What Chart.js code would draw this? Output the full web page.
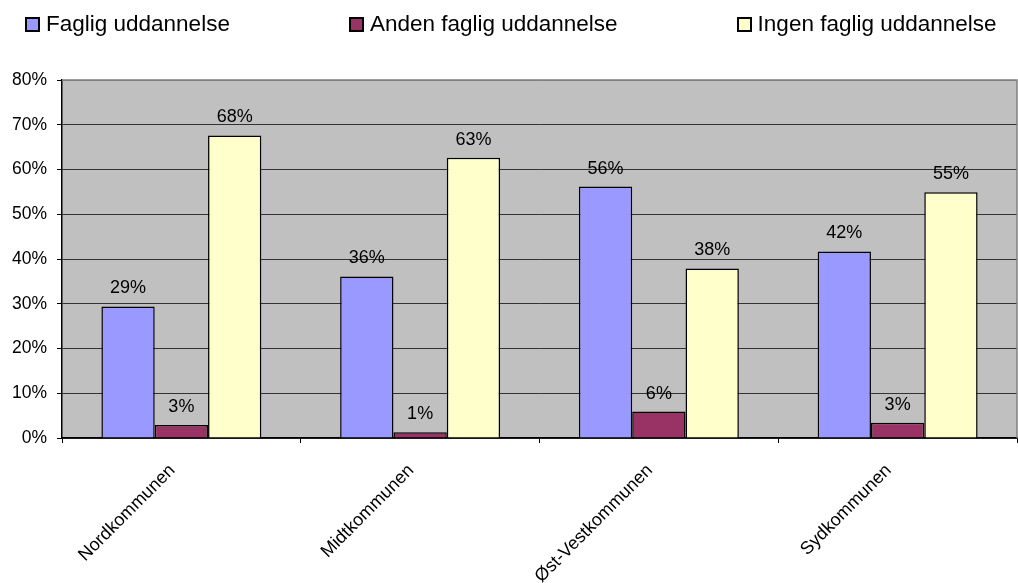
<!DOCTYPE html>
<html>
<head>
<meta charset="utf-8">
<script src="https://cdn.jsdelivr.net/npm/chart.js@4.4.0/dist/chart.umd.min.js"></script>
<style>
  html, body { margin: 0; padding: 0; background: #fff; }
  #wrap { position: relative; width: 1018px; height: 583px; }
  #legend {
    position: absolute; left: 25px; top: 11px;
    display: flex; gap: 119px;
    font: 22.5px "Liberation Sans", Arial, sans-serif; color: #000;
  }
  .item { display: flex; align-items: center; white-space: nowrap; }
  .sw { width: 15px; height: 15px; border: 2px solid #000; box-sizing: border-box; margin-right: 6px; }
  canvas { display: block; }
</style>
</head>
<body>
<div id="wrap">
  <div id="legend"></div>
  <canvas id="chart" width="1018" height="583"></canvas>
</div>
<script>
// Andel med faglig uddannelse pr. kommune (procent)
const categories = ['Nordkommunen', 'Midtkommunen', 'Øst-Vestkommunen', 'Sydkommunen'];
const seriesNames = ['Faglig uddannelse', 'Anden faglig uddannelse', 'Ingen faglig uddannelse'];
const fagligValues = [29.4, 36.1, 56.2, 41.7];
const andenValues = [2.9, 1.3, 5.9, 3.4];
const ingenValues = [67.6, 62.6, 37.9, 54.9];
const seriesColors = ['#9999FF', '#993366', '#FFFFCC'];
const yTicks = [0, 10, 20, 30, 40, 50, 60, 70, 80];

const FONT = '"Liberation Sans", Arial, sans-serif';
const seriesValues = [fagligValues, andenValues, ingenValues];

// legend as plain html, spaced like the original
const legendEl = document.getElementById('legend');
legendEl.innerHTML = seriesNames.map((name, i) =>
  `<div class="item"><span class="sw" style="background:${seriesColors[i]}"></span>${name}</div>`
).join('');

// grey plot background + frame
const plotBg = {
  id: 'plotBg',
  beforeDraw(chart) {
    const { ctx, chartArea: a } = chart;
    ctx.save();
    ctx.fillStyle = '#C0C0C0';
    ctx.fillRect(a.left, a.top, a.right - a.left, a.bottom - a.top);
    ctx.restore();
  },
  afterDraw(chart) {
    const { ctx, chartArea: a } = chart;
    ctx.save();
    ctx.strokeStyle = '#808080';
    ctx.lineWidth = 1.5;
    ctx.beginPath();
    ctx.moveTo(a.left, a.top);
    ctx.lineTo(a.right, a.top);
    ctx.lineTo(a.right, a.bottom);
    ctx.stroke();
    ctx.restore();
  }
};

// value labels above bars
const barLabels = {
  id: 'barLabels',
  afterDatasetsDraw(chart) {
    const ctx = chart.ctx;
    ctx.save();
    ctx.font = '18px ' + FONT;
    ctx.fillStyle = '#000';
    ctx.textAlign = 'center';
    ctx.textBaseline = 'alphabetic';
    chart.data.datasets.forEach((ds, di) => {
      chart.getDatasetMeta(di).data.forEach((bar, i) => {
        ctx.fillText(Math.round(ds.data[i]) + '%', bar.x, bar.y - 13);
      });
    });
    ctx.restore();
  }
};

new Chart(document.getElementById('chart'), {
  type: 'bar',
  data: {
    labels: categories,
    datasets: seriesNames.map((name, i) => ({
      label: name,
      data: seriesValues[i],
      backgroundColor: seriesColors[i],
      borderColor: '#000',
      borderWidth: 1.5,
      categoryPercentage: 0.67,
      barPercentage: 1.0,
    })),
  },
  options: {
    responsive: false,
    animation: false,
    layout: { padding: { top: 80, right: 1, left: 0, bottom: 0 } },
    plugins: {
      legend: { display: false },
      tooltip: { enabled: false },
    },
    scales: {
      x: {
        offset: true,
        grid: { offset: true, drawOnChartArea: false, drawTicks: true, tickLength: 5, color: '#000' },
        border: { color: '#000', width: 1.5 },
        ticks: {
          color: '#000',
          font: { family: FONT, size: 18 },
          minRotation: 45, maxRotation: 45,
          autoSkip: false,
          padding: 17,
          labelOffset: -9,
        },
        afterFit: s => { s.height = 145; },
      },
      y: {
        min: 0, max: 80,
        afterBuildTicks: s => { s.ticks = yTicks.map(v => ({ value: v })); },
        grid: {
          color: ctx => (ctx.tick && ctx.tick.value === 80 ? '#808080' : '#333'),
          tickColor: '#000',
          tickLength: 5,
          lineWidth: 1,
        },
        border: { color: '#000', width: 1.5 },
        ticks: {
          color: '#000',
          font: { family: FONT, size: 17.5 },
          padding: 10,
          callback: v => v + '%',
        },
        afterFit: s => { s.width = 62; },
      },
    },
  },
  plugins: [plotBg, barLabels],
});
</script>
</body>
</html>
